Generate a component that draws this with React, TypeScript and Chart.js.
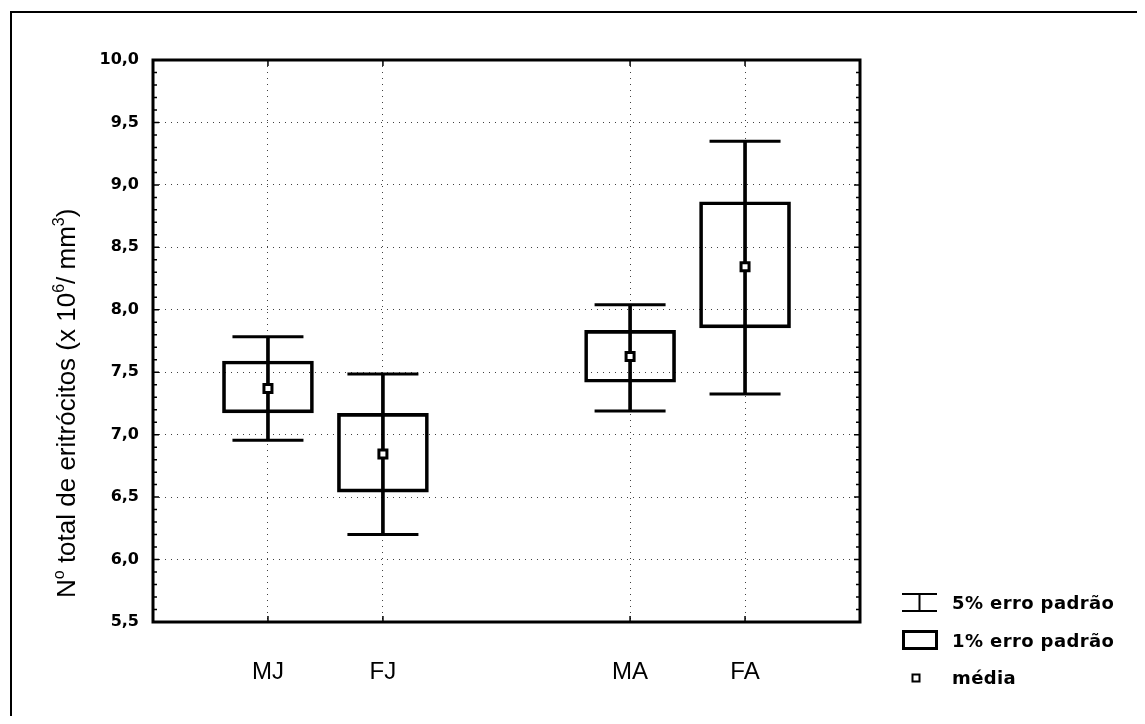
import React, { useEffect, useRef } from "react";
import { Chart, registerables } from "chart.js";

Chart.register(...registerables);

// ---------- data ----------
const categories = ["MJ", "FJ", "MA", "FA"];
const positions = [1, 2, 4.15, 5.15];
const means = [7.37, 6.845, 7.625, 8.345];
const boxLow = [7.175, 6.54, 7.42, 7.855];
const boxHigh = [7.59, 7.17, 7.835, 8.865];
const whiskerLow = [6.955, 6.2, 7.19, 7.325];
const whiskerHigh = [7.785, 7.485, 8.04, 9.35];
const yTickValues = [5.5, 6.0, 6.5, 7.0, 7.5, 8.0, 8.5, 9.0, 9.5, 10.0];
const legendLabels = ["5% erro padrão", "1% erro padrão", "média"];
const titleParts: [string, boolean][] = [
  ["N", false],
  ["o", true],
  [" total de eritrócitos (x 10", false],
  ["6", true],
  ["/ mm", false],
  ["3", true],
  [")", false],
];

const W = 1129;
const H = 708;

const decorPlugin = {
  id: "decor",
  afterDraw(chart: any) {
    const ctx = chart.ctx as CanvasRenderingContext2D;
    const { left, right, top, bottom } = chart.chartArea;
    const xs = chart.scales.x;
    const ys = chart.scales.y;
    ctx.save();
    ctx.strokeStyle = "#000";
    ctx.fillStyle = "#000";
    ctx.lineCap = "butt";

    // inner tick marks
    ctx.lineWidth = 1.5;
    ctx.beginPath();
    for (let k = 55; k <= 100; k++) {
      const y = ys.getPixelForValue(k / 10);
      const len = k % 5 === 0 ? 6 : 4;
      ctx.moveTo(left, y);
      ctx.lineTo(left + len, y);
      ctx.moveTo(right, y);
      ctx.lineTo(right - len, y);
    }
    for (const p of positions) {
      const x = xs.getPixelForValue(p);
      ctx.moveTo(x, top);
      ctx.lineTo(x, top + 6);
      ctx.moveTo(x, bottom);
      ctx.lineTo(x, bottom - 6);
    }
    ctx.stroke();

    // plot border
    ctx.lineWidth = 3;
    ctx.strokeRect(left, top, right - left, bottom - top);

    // outer frame (left + top)
    ctx.lineWidth = 2;
    ctx.beginPath();
    ctx.moveTo(3, H);
    ctx.lineTo(3, 4);
    ctx.lineTo(W, 4);
    ctx.stroke();

    // y-axis title with superscripts
    const fs = 26;
    ctx.save();
    ctx.translate(67, 590);
    ctx.rotate(-Math.PI / 2);
    ctx.textBaseline = "alphabetic";
    ctx.textAlign = "left";
    let cx = 0;
    for (const [txt, sup] of titleParts) {
      const size = sup ? Math.round(fs * 0.6) : fs;
      ctx.font = `${size}px "Liberation Sans", Arial, sans-serif`;
      ctx.fillText(txt, cx, sup ? -fs * 0.42 : 0);
      cx += ctx.measureText(txt).width;
    }
    ctx.restore();

    // legend
    const lx = 894;
    ctx.font = 'bold 18px "DejaVu Sans", sans-serif';
    (ctx as any).letterSpacing = "0.4px";
    ctx.textBaseline = "alphabetic";
    ctx.textAlign = "left";
    // whisker icon
    ctx.lineWidth = 2;
    ctx.beginPath();
    ctx.moveTo(lx, 586);
    ctx.lineTo(lx + 35, 586);
    ctx.moveTo(lx + 17.5, 586);
    ctx.lineTo(lx + 17.5, 603);
    ctx.moveTo(lx, 603);
    ctx.lineTo(lx + 35, 603);
    ctx.stroke();
    ctx.fillText(legendLabels[0], 944, 601);
    // box icon
    ctx.lineWidth = 3;
    ctx.strokeRect(lx + 1.5, 623.5, 33, 17);
    ctx.fillText(legendLabels[1], 944, 639);
    // mean icon
    ctx.lineWidth = 2;
    ctx.fillStyle = "#fff";
    ctx.fillRect(lx + 10.5, 666.5, 7, 7);
    ctx.strokeRect(lx + 10.5, 666.5, 7, 7);
    ctx.fillStyle = "#000";
    ctx.fillText(legendLabels[2], 944, 676);
    ctx.restore();
  },
};

export default function App() {
  const ref = useRef<HTMLCanvasElement>(null);
  useEffect(() => {
    if (!ref.current) return;
    const gridColor = "rgba(0,0,0,0.75)";
    const chart = new Chart(ref.current, {
      type: "bar",
      data: {
        datasets: [
          {
            type: "scatter",
            label: "média",
            data: positions.map((x, i) => ({ x, y: means[i] })),
            pointStyle: "rect",
            pointRadius: 5.66,
            pointBorderWidth: 3,
            pointBackgroundColor: "#fff",
            pointBorderColor: "#000",
            order: 0,
          } as any,
          {
            type: "scatter",
            label: "caps",
            data: positions.flatMap((x, i) => [
              { x, y: whiskerLow[i] },
              { x, y: whiskerHigh[i] },
            ]),
            pointStyle: "line",
            pointRadius: 35.5,
            pointBorderWidth: 3,
            pointBorderColor: "#000",
            order: 1,
          } as any,
          {
            type: "bar",
            label: "stem",
            data: positions.map((x, i) => ({ x, y: [whiskerLow[i], whiskerHigh[i]] })),
            backgroundColor: "#000",
            borderWidth: 0,
            barThickness: 3,
            grouped: false,
            order: 2,
          } as any,
          {
            type: "bar",
            label: "1% erro padrão",
            data: positions.map((x, i) => ({ x, y: [boxLow[i], boxHigh[i]] })),
            backgroundColor: "rgba(0,0,0,0)",
            borderColor: "#000",
            borderWidth: 3,
            borderSkipped: false,
            barThickness: 91,
            grouped: false,
            order: 3,
          } as any,
        ],
      },
      options: {
        animation: false,
        responsive: false,
        maintainAspectRatio: false,
        layout: { padding: { left: 0, top: 52, right: 277, bottom: 0 } },
        plugins: { legend: { display: false }, tooltip: { enabled: false } },
        scales: {
          x: {
            type: "linear",
            min: 0,
            max: 6.15,
            offset: false,
            afterBuildTicks: (s: any) => {
              s.ticks = positions.map((v) => ({ value: v }));
            },
            afterFit: (s: any) => {
              s.height = 94;
            },
            grid: { drawTicks: false, offset: false, color: gridColor, lineWidth: 1 },
            border: { display: false, dash: [1, 5] },
            ticks: {
              autoSkip: false,
              maxRotation: 0,
              padding: 36,
              color: "#000",
              font: { family: '"Liberation Sans", Arial, sans-serif', size: 24 },
              callback: (_v: any, i: number) => categories[i],
            },
          },
          y: {
            type: "linear",
            min: 5.5,
            max: 10,
            afterBuildTicks: (s: any) => {
              s.ticks = yTickValues.map((v) => ({ value: v }));
            },
            afterFit: (s: any) => {
              s.width = 145;
            },
            grid: { drawTicks: false, color: gridColor, lineWidth: 1 },
            border: { display: false, dash: [1, 5] },
            ticks: {
              padding: 14,
              color: "#000",
              font: { family: '"DejaVu Sans", sans-serif', size: 16, weight: "bold" },
              callback: (v: any) => Number(v).toFixed(1).replace(".", ","),
            },
          },
        },
      },
      plugins: [decorPlugin],
    } as any);
    return () => chart.destroy();
  }, []);
  return (
    <div style={{ width: W, height: H, background: "#fff" }}>
      <canvas ref={ref} width={W} height={H} style={{ display: "block" }} />
    </div>
  );
}
